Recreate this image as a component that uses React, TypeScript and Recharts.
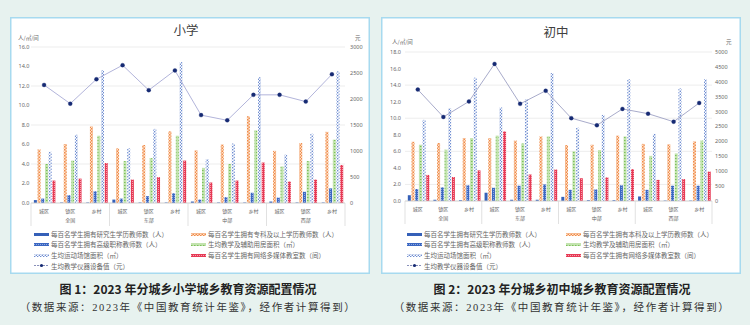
import React from 'react';
import { ComposedChart, Bar, Line, XAxis, YAxis, CartesianGrid } from 'recharts';

const AREAS = ['城区', '镇区', '乡村'];
const REGIONS = ['全国', '东部', '中部', '西部'];

// 小学
const P_GRAD = [0.3, 0.05, 0.05, 0.35, 0.05, 0.05, 0.15, 0.05, 0.05, 0.15, 0.05, 0.05];
const P_DEGREE = [5.5, 6.05, 7.85, 5.6, 5.95, 7.35, 5.4, 6.0, 8.9, 5.35, 6.15, 7.3];
const P_SENIOR = [0.45, 0.8, 1.2, 0.45, 0.7, 1.0, 0.35, 0.6, 1.05, 0.55, 1.15, 1.5];
const P_ROOM = [4.0, 4.35, 6.9, 4.3, 4.6, 6.9, 3.6, 4.0, 7.45, 3.75, 4.3, 6.5];
const P_SPORT = [5.25, 7.0, 13.6, 5.6, 7.6, 14.45, 4.5, 6.1, 12.9, 4.95, 7.1, 13.5];
const P_MEDIA = [2.3, 2.5, 4.1, 2.4, 2.65, 4.35, 2.1, 2.3, 4.15, 2.2, 2.4, 3.9];
const P_EQUIP = [2270, 1910, 2380, 2650, 2170, 2550, 1690, 1590, 2080, 2080, 1950, 2475];

// 初中
const J_GRAD = [0.7, 0.15, 0.1, 1.0, 0.15, 0.15, 0.5, 0.1, 0.1, 0.55, 0.05, 0.05];
const J_DEGREE = [7.15, 7.0, 7.6, 7.6, 7.3, 7.8, 6.75, 6.8, 7.9, 6.9, 6.85, 7.2];
const J_SENIOR = [1.45, 1.65, 1.9, 1.6, 1.85, 2.0, 1.35, 1.4, 1.9, 1.35, 1.85, 1.85];
const J_ROOM = [6.8, 6.2, 7.6, 7.9, 6.95, 7.8, 6.0, 6.15, 7.8, 5.45, 5.75, 7.3];
const J_SPORT = [9.8, 11.2, 14.9, 11.3, 12.3, 15.45, 8.85, 10.4, 14.7, 8.1, 13.6, 14.7];
const J_MEDIA = [3.15, 2.9, 3.7, 8.4, 3.2, 3.8, 2.75, 2.85, 3.85, 2.55, 2.65, 3.55];
const J_EQUIP = [3740, 2820, 3340, 4600, 3260, 3700, 2780, 2540, 3090, 2930, 2660, 3290];

const P_LEFT_TICKS = [0, 2, 4, 6, 8, 10, 12, 14, 16];
const P_RIGHT_TICKS = [0, 500, 1000, 1500, 2000, 2500, 3000];
const J_LEFT_TICKS = [0, 2, 4, 6, 8, 10, 12, 14, 16, 18];
const J_RIGHT_TICKS = [0, 500, 1000, 1500, 2000, 2500, 3000, 3500, 4000, 4500, 5000];

const P_NAMES = [
  '每百名学生拥有研究生学历教师数（人）',
  '每百名学生拥有专科及以上学历教师数（人）',
  '每百名学生拥有高级职称教师数（人）',
  '生均教学及辅助用房面积（㎡）',
  '生均运动场馆面积（㎡）',
  '每百名学生拥有网络多媒体教室数（间）',
  '生均教学仪器设备值（元）',
];
const J_NAMES = [
  '每百名学生拥有研究生学历教师数（人）',
  '每百名学生拥有本科及以上学历教师数（人）',
  '每百名学生拥有高级职称教师数（人）',
  '生均教学及辅助用房面积（㎡）',
  '生均运动场馆面积（㎡）',
  '每百名学生拥有网络多媒体教室数（间）',
  '生均教学仪器设备值（元）',
];

const BAR_KEYS = ['grad', 'degree', 'senior', 'room', 'sport', 'media'];
const BAR_FILLS = ['#3560b8', 'url(#pOr)', 'url(#pBl)', 'url(#pGr)', 'url(#pWv)', 'url(#pRd)'];

const CJK = '"Noto Sans CJK SC", sans-serif';
const NUM = '"Noto Sans", "Noto Sans CJK SC", sans-serif';
const GREY = '#666666';

const build = (g: number[], d: number[], s: number[], r: number[], sp: number[], m: number[], e: number[]) =>
  g.map((_, i) => ({
    area: AREAS[i % 3],
    region: REGIONS[Math.floor(i / 3)],
    grad: g[i],
    degree: d[i],
    senior: s[i],
    room: r[i],
    sport: sp[i],
    media: m[i],
    equip: e[i],
  }));

const primaryData = build(P_GRAD, P_DEGREE, P_SENIOR, P_ROOM, P_SPORT, P_MEDIA, P_EQUIP);
const juniorData = build(J_GRAD, J_DEGREE, J_SENIOR, J_ROOM, J_SPORT, J_MEDIA, J_EQUIP);

const Patterns = () => (
  <svg width={0} height={0} style={{ position: 'absolute' }}>
    <defs>
      <pattern id="pOr" width="3" height="3" patternUnits="userSpaceOnUse">
        <rect width="3" height="3" fill="#fde2cc" />
        <rect width="1.5" height="1.5" fill="#f08a48" />
        <rect x="1.5" y="1.5" width="1.5" height="1.5" fill="#f08a48" />
      </pattern>
      <pattern id="pBl" width="2" height="2" patternUnits="userSpaceOnUse">
        <rect width="2" height="2" fill="#3b67c2" />
        <rect width="1" height="1" fill="#8fa9e0" />
      </pattern>
      <pattern id="pGr" width="3" height="3" patternUnits="userSpaceOnUse">
        <rect width="3" height="3" fill="#c2e3ae" />
        <rect width="1.5" height="1" fill="#7cc05a" />
      </pattern>
      <pattern id="pWv" width="3" height="3" patternUnits="userSpaceOnUse">
        <rect width="3" height="3" fill="#ffffff" />
        <circle cx="0.75" cy="0.75" r="0.65" fill="#3d66c2" />
        <circle cx="2.25" cy="2.25" r="0.65" fill="#3d66c2" />
      </pattern>
      <pattern id="pRd" width="2" height="2" patternUnits="userSpaceOnUse">
        <rect width="2" height="2" fill="#e63a55" />
        <rect width="1" height="1" fill="#f5a0ae" />
      </pattern>
    </defs>
  </svg>
);

const makeTick = (band: number) => (props: any) => {
  const { x, y, index, payload } = props;
  return (
    <g>
      <text x={x} y={y + 7} textAnchor="middle" dominantBaseline="central" fontSize={5} fill={GREY} fontFamily={CJK}>
        {payload.value}
      </text>
      {index % 3 === 1 && (
        <text x={x} y={y + 16} textAnchor="middle" dominantBaseline="central" fontSize={5} fill={GREY} fontFamily={CJK}>
          {REGIONS[Math.floor(index / 3)]}
        </text>
      )}
      {index % 3 === 0 && <line x1={x - band / 2} x2={x - band / 2} y1={y} y2={y + 23} stroke="#d9d9d9" strokeWidth={0.8} />}
      {index === 11 && <line x1={x + band / 2} x2={x + band / 2} y1={y} y2={y + 23} stroke="#d9d9d9" strokeWidth={0.8} />}
    </g>
  );
};

const Swatch = ({ i }: { i: number }) => (
  <svg width={15} height={5} style={{ display: 'block' }}>
    {i < 6 ? (
      <rect x={0} y={1} width={15} height={3} fill={BAR_FILLS[i]} />
    ) : (
      <g>
        <line x1={0} x2={15} y1={2.5} y2={2.5} stroke="#6b73a8" strokeWidth={0.8} strokeDasharray="2 1" />
        <circle cx={7.5} cy={2.5} r={1.6} fill="#162a73" />
      </g>
    )}
  </svg>
);

type PanelProps = {
  left: number;
  title: string;
  titleX: number;
  titleY: number;
  data: any[];
  names: string[];
  yMax: number;
  leftTicks: number[];
  rMax: number;
  rightTicks: number[];
  height: number;
  top: number;
  yw: number;
  rw: number;
  ytm: number;
  rtm: number;
  unitY: number;
  unitX: number;
  yuanX: number;
  legendX: number[];
  lineColor: string;
};

const Panel = (p: PanelProps) => {
  const W = 360;
  const band = (W - p.yw - p.rw) / 12;
  const rows = [217, 227.4, 238, 248.6];
  return (
    <div
      style={{
        position: 'absolute',
        left: p.left,
        top: 17,
        width: W,
        height: 257,
        background: '#fff',
        boxShadow: 'inset 0 0 0 1.5px #a7daef',
      }}
    >
      <div style={{ position: 'absolute', left: p.titleX - 40, top: p.titleY - 9, width: 80, textAlign: 'center', fontFamily: CJK, fontSize: 12.5, lineHeight: '18px', color: '#404040' }}>
        {p.title}
      </div>
      <div style={{ position: 'absolute', left: p.unitX, top: p.unitY - 4, fontFamily: CJK, fontSize: 5.5, lineHeight: '8px', color: GREY }}>人/㎡/间</div>
      <div style={{ position: 'absolute', left: p.yuanX, top: p.unitY - 4, fontFamily: CJK, fontSize: 5.5, lineHeight: '8px', color: GREY }}>元</div>
      <div style={{ position: 'absolute', left: 0, top: 0 }}>
        <ComposedChart
          width={W}
          height={p.height}
          data={p.data}
          margin={{ top: p.top, right: 0, left: 0, bottom: 5 }}
          barCategoryGap="11%"
          barGap={0.7}
        >
          <CartesianGrid vertical={false} stroke="#e8e8e8" strokeWidth={0.8} yAxisId="l" />
          <XAxis
            dataKey="area"
            interval={0}
            height={24}
            tickSize={0}
            tickMargin={0}
            tickLine={false}
            axisLine={{ stroke: '#d0d0d0', strokeWidth: 0.8 }}
            tick={makeTick(band)}
          />
          <YAxis
            yAxisId="l"
            width={p.yw}
            domain={[0, p.yMax]}
            ticks={p.leftTicks}
            tickFormatter={(v: number) => v.toFixed(1)}
            axisLine={false}
            tickLine={false}
            tickSize={0}
            tickMargin={p.ytm}
            tick={{ fontSize: 5.5, fill: GREY, fontFamily: NUM }}
          />
          <YAxis
            yAxisId="r"
            orientation="right"
            width={p.rw}
            domain={[0, p.rMax]}
            ticks={p.rightTicks}
            axisLine={false}
            tickLine={false}
            tickSize={0}
            tickMargin={p.rtm}
            tick={{ fontSize: 5.5, fill: GREY, fontFamily: NUM, textAnchor: 'start' }}
          />
          {BAR_KEYS.map((k, i) => (
            <Bar key={k} yAxisId="l" dataKey={k} name={p.names[i]} fill={BAR_FILLS[i]} isAnimationActive={false} />
          ))}
          <Line
            yAxisId="r"
            dataKey="equip"
            name={p.names[6]}
            stroke={p.lineColor}
            strokeWidth={0.9}
            dot={{ r: 2, fill: '#162a73', stroke: '#162a73', strokeWidth: 0.3 }}
            isAnimationActive={false}
          />
        </ComposedChart>
      </div>
      {p.names.map((n, i) => (
        <div
          key={n}
          style={{
            position: 'absolute',
            left: p.legendX[i % 2],
            top: rows[Math.floor(i / 2)] - 5,
            height: 10,
            display: 'flex',
            alignItems: 'center',
            gap: 2,
            fontFamily: CJK,
            fontSize: 6.5,
            color: GREY,
            whiteSpace: 'nowrap',
          }}
        >
          <Swatch i={i} />
          <span>{n}</span>
        </div>
      ))}
    </div>
  );
};

const Caption = ({ cx, fig }: { cx: number; fig: string }) => (
  <>
    <div style={{ position: 'absolute', left: cx - 190, top: 280, width: 380, textAlign: 'center', fontFamily: CJK, fontWeight: 700, fontSize: 12, lineHeight: '18px', color: '#222' }}>
      {fig}
    </div>
    <div style={{ position: 'absolute', left: cx - 190, top: 299, width: 380, textAlign: 'center', fontFamily: '"Liberation Serif", "Noto Sans CJK SC", serif', fontSize: 10.5, letterSpacing: 1.6, lineHeight: '18px', color: '#333' }}>
      （数据来源：2023年《中国教育统计年鉴》，经作者计算得到）
    </div>
  </>
);

export default function App() {
  return (
    <div style={{ position: 'absolute', left: 0, top: 0, width: 750, height: 325, background: '#e7f2ef', overflow: 'hidden' }}>
      <Patterns />
      <Panel
        left={10}
        title="小学"
        titleX={176}
        titleY={13}
        data={primaryData}
        names={P_NAMES}
        yMax={16}
        leftTicks={P_LEFT_TICKS}
        rMax={3000}
        rightTicks={P_RIGHT_TICKS}
        height={215}
        top={30}
        yw={21}
        rw={25}
        ytm={1.5}
        rtm={5}
        unitX={8}
        unitY={21}
        yuanX={345}
        legendX={[24, 181]}
        lineColor="#a9acd6"
      />
      <Panel
        left={381}
        title="初中"
        titleX={175}
        titleY={14.5}
        data={juniorData}
        names={J_NAMES}
        yMax={18}
        leftTicks={J_LEFT_TICKS}
        rMax={5000}
        rightTicks={J_RIGHT_TICKS}
        height={213}
        top={35}
        yw={24}
        rw={29}
        ytm={4}
        rtm={3}
        unitX={11}
        unitY={24.5}
        yuanX={345}
        legendX={[26, 185]}
        lineColor="#9ea2c4"
      />
      <Caption cx={188} fig="图 1：2023 年分城乡小学城乡教育资源配置情况" />
      <Caption cx={562} fig="图 2：2023 年分城乡初中城乡教育资源配置情况" />
    </div>
  );
}
